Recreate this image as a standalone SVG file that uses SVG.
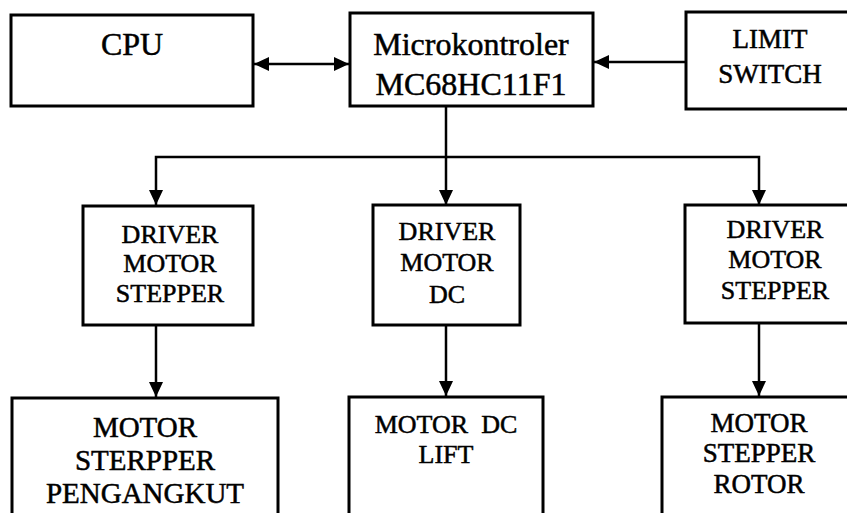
<svg xmlns="http://www.w3.org/2000/svg" width="847" height="513" viewBox="0 0 847 513">
<style>
.box{fill:#fff;stroke:#000;stroke-width:3}
.ln{fill:none;stroke:#000;stroke-width:2.5}
text{font-family:"Liberation Serif","Times New Roman",serif;fill:#000;stroke:#000;stroke-width:0.5;text-anchor:middle}
.t32{font-size:32px}
.t27{font-size:27px}
.t26{font-size:26px}
.t29{font-size:29px}
</style>
<defs>
<marker id="ah" viewBox="0 0 15 14" refX="15" refY="7" markerWidth="15" markerHeight="14" markerUnits="userSpaceOnUse" orient="auto-start-reverse">
<path d="M0,0 L15,7 L0,14 Z" fill="#000"/>
</marker>
</defs>
<rect width="847" height="513" fill="#fff"/>
<g id="connectors">
<line class="ln" x1="254" y1="64" x2="349" y2="64" marker-start="url(#ah)" marker-end="url(#ah)"/>
<line class="ln" x1="686" y1="62" x2="594" y2="62" marker-end="url(#ah)"/>
<polyline class="ln" points="446,106 446,157"/>
<polyline class="ln" points="156,205 156,157 759,157 759,205" marker-start="url(#ah)" marker-end="url(#ah)"/>
<line class="ln" x1="446" y1="157" x2="446" y2="205" marker-end="url(#ah)"/>
<line class="ln" x1="156" y1="326" x2="156" y2="397" marker-end="url(#ah)"/>
<line class="ln" x1="446" y1="326" x2="446" y2="396" marker-end="url(#ah)"/>
<line class="ln" x1="759" y1="324" x2="759" y2="396" marker-end="url(#ah)"/>
</g>
<g id="cpu">
<rect class="box" x="11" y="15" width="242" height="91"/>
<text class="t32" x="132" y="55">CPU</text>
</g>
<g id="micro">
<rect class="box" x="350" y="13" width="243" height="93"/>
<text class="t32" x="471" y="55">Microkontroler</text>
<text class="t32" x="471" y="95">MC68HC11F1</text>
</g>
<g id="limit">
<rect class="box" x="686" y="12" width="170" height="97"/>
<text class="t27" x="770" y="48">LIMIT</text>
<text class="t27" x="770" y="83">SWITCH</text>
</g>
<g id="driver1">
<rect class="box" x="83" y="206" width="170" height="119"/>
<text class="t26" x="170" y="243">DRIVER</text>
<text class="t26" x="170" y="272">MOTOR</text>
<text class="t26" x="170" y="302">STEPPER</text>
</g>
<g id="driver2">
<rect class="box" x="373" y="205" width="147" height="120"/>
<text class="t26" x="447" y="240">DRIVER</text>
<text class="t26" x="447" y="271">MOTOR</text>
<text class="t26" x="447" y="303">DC</text>
</g>
<g id="driver3">
<rect class="box" x="685" y="205" width="170" height="118"/>
<text class="t26" x="775" y="238">DRIVER</text>
<text class="t26" x="775" y="268">MOTOR</text>
<text class="t26" x="775" y="299">STEPPER</text>
</g>
<g id="motor1">
<rect class="box" x="12" y="398" width="266" height="130"/>
<text class="t29" x="145" y="437">MOTOR</text>
<text class="t29" x="145" y="470">STERPPER</text>
<text class="t29" x="145" y="503">PENGANGKUT</text>
</g>
<g id="motor2">
<rect class="box" x="349" y="397" width="194" height="130"/>
<text class="t26" x="446" y="433" xml:space="preserve">MOTOR  DC</text>
<text class="t26" x="446" y="463">LIFT</text>
</g>
<g id="motor3">
<rect class="box" x="662" y="397" width="194" height="130"/>
<text class="t27" x="759" y="432">MOTOR</text>
<text class="t27" x="759" y="462">STEPPER</text>
<text class="t27" x="759" y="493">ROTOR</text>
</g>
</svg>
